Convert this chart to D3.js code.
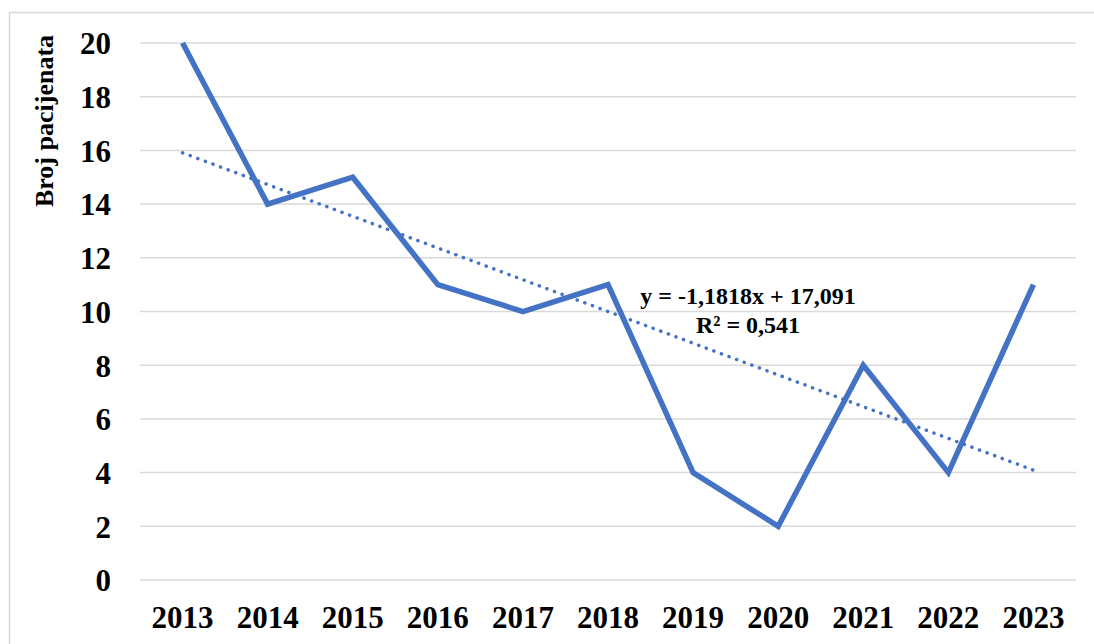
<!DOCTYPE html>
<html>
<head>
<meta charset="utf-8">
<style>
  body { margin: 0; background: #fff; }
  text { font-family: "Liberation Serif", "Times New Roman", serif; font-weight: bold; fill: #000; }
</style>
</head>
<body>
<div id="chart"></div>
<script src="https://cdn.jsdelivr.net/npm/d3@7/dist/d3.min.js"></script>
<script>
var years = ['2013', '2014', '2015', '2016', '2017', '2018', '2019', '2020', '2021', '2022', '2023'];
var patients = [20, 14, 15, 11, 10, 11, 4, 2, 8, 4, 11];
var yTicks = [0, 2, 4, 6, 8, 10, 12, 14, 16, 18, 20];
var trendSlope = -1.1818, trendIntercept = 17.091;
var eqLabel = 'y = -1,1818x + 17,091', r2Label = 'R² = 0,541';

var width = 1094, height = 644;
var plotLeft = 140, plotRight = 1076, plotTop = 43, plotBottom = 580;

var svg = d3.select('#chart').append('svg')
    .attr('width', width)
    .attr('height', height);

// outer frame
svg.append('path')
    .attr('d', 'M9.5,' + height + ' V12.5 H' + width)
    .attr('fill', 'none')
    .attr('stroke', '#d9d9d9')
    .attr('stroke-width', 1.5);

var x = d3.scaleBand().domain(years).range([plotLeft, plotRight]);
var y = d3.scaleLinear().domain([0, 20]).range([plotBottom, plotTop]);

// grid lines
svg.append('g').selectAll('line')
    .data(yTicks)
    .enter().append('line')
    .attr('x1', plotLeft).attr('x2', plotRight)
    .attr('y1', function(d){ return y(d); })
    .attr('y2', function(d){ return y(d); })
    .attr('stroke', '#d9d9d9')
    .attr('stroke-width', 1.5);

// y axis labels
var yAxis = svg.append('g')
    .attr('transform', 'translate(' + (plotLeft - 29) + ',0)')
    .call(d3.axisLeft(y).tickValues(yTicks).tickSize(0).tickPadding(0));
yAxis.select('.domain').remove();
yAxis.selectAll('text')
    .attr('font-size', 31)
    .attr('dy', '0.35em')
    .style('font-family', '"Liberation Serif", serif')
    .style('font-weight', 'bold')
    .attr('fill', '#000');

// x axis labels
var xAxis = svg.append('g')
    .attr('transform', 'translate(0,' + plotBottom + ')')
    .call(d3.axisBottom(x).tickSize(0).tickPadding(0));
xAxis.select('.domain').remove();
xAxis.selectAll('text')
    .attr('font-size', 31)
    .attr('y', 0)
    .attr('dy', 48)
    .style('font-family', '"Liberation Serif", serif')
    .style('font-weight', 'bold')
    .attr('fill', '#000');

// axis title
svg.append('text')
    .attr('transform', 'translate(53,' + ((33 + 209) / 2) + ') rotate(-90)')
    .attr('text-anchor', 'middle')
    .attr('font-size', 26)
    .text('Broj pacijenata');

var cx = function(i){ return x(years[i]) + x.bandwidth() / 2; };

// trend line (dotted)
var trend = d3.line()
    .x(function(d){ return cx(d); })
    .y(function(d){ return y(trendSlope * (d + 1) + trendIntercept); });
svg.append('path')
    .datum([0, years.length - 1])
    .attr('d', trend)
    .attr('fill', 'none')
    .attr('stroke', '#4472c4')
    .attr('stroke-width', 3.5)
    .attr('stroke-linecap', 'round')
    .attr('stroke-dasharray', '0.1 8');

// data line
var line = d3.line()
    .x(function(d, i){ return cx(i); })
    .y(function(d){ return y(d); });
svg.append('path')
    .datum(patients)
    .attr('d', line)
    .attr('fill', 'none')
    .attr('stroke', '#4472c4')
    .attr('stroke-width', 5.5)
    .attr('stroke-linejoin', 'miter');

// equation label
svg.append('text')
    .attr('x', 748).attr('y', 304)
    .attr('text-anchor', 'middle')
    .attr('font-size', 24)
    .text(eqLabel);
svg.append('text')
    .attr('x', 748).attr('y', 333)
    .attr('text-anchor', 'middle')
    .attr('font-size', 24)
    .text(r2Label);
</script>
</body>
</html>
